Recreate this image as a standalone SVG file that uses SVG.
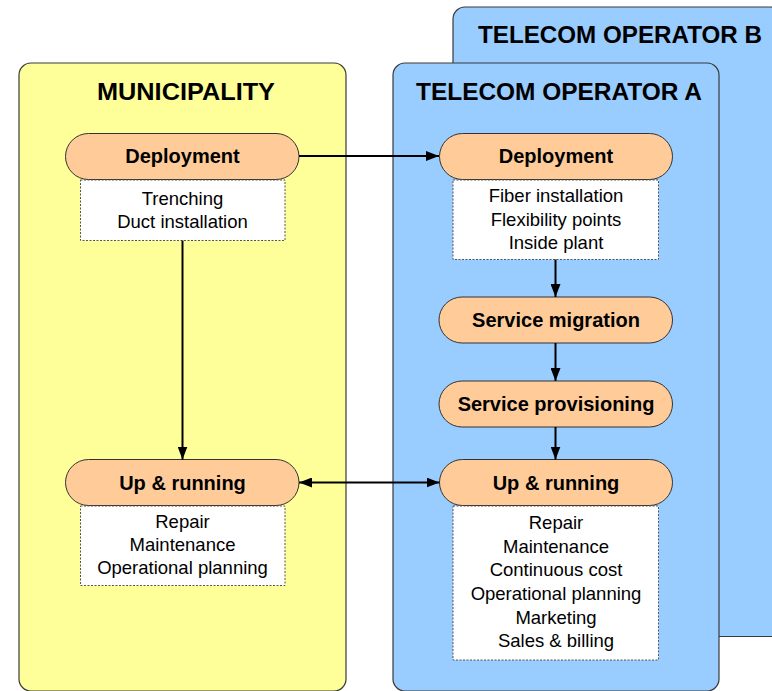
<svg xmlns="http://www.w3.org/2000/svg" width="772" height="691" viewBox="0 0 772 691">
<defs>
<style>
.cont{stroke:#3a3a3a;stroke-width:1.2}
.pill{fill:#FFCC99;stroke:#333;stroke-width:1}
.det{fill:#fff;stroke:#555;stroke-width:1;stroke-dasharray:2 1.5}
.title{font-family:"Liberation Sans",Arial,sans-serif;font-weight:bold;font-size:24px;fill:#000;text-anchor:middle}
.pt{font-family:"Liberation Sans",Arial,sans-serif;font-weight:bold;font-size:20px;fill:#000;text-anchor:middle}
.dt{font-family:"Liberation Sans",Arial,sans-serif;font-size:18.5px;fill:#000;text-anchor:middle}
.conn{stroke:#000;stroke-width:2;fill:none}
</style>
<marker id="ah" viewBox="0 0 13 10" refX="13" refY="5" markerWidth="13" markerHeight="10" markerUnits="userSpaceOnUse" orient="auto-start-reverse">
<path d="M0,0 L13,5 L0,10 Z" fill="#000"/>
</marker>
</defs>
<rect width="772" height="691" fill="#fff"/>

<g id="operator-b">
<rect class="cont" x="453" y="7" width="330" height="629.5" rx="12" fill="#99CCFF"/>
<text class="title" x="620" y="43" textLength="284" lengthAdjust="spacingAndGlyphs">TELECOM OPERATOR B</text>
</g>

<g id="municipality">
<rect class="cont" x="19" y="63" width="327" height="628" rx="12" fill="#FFFF99"/>
<text class="title" x="186" y="100" textLength="178" lengthAdjust="spacingAndGlyphs">MUNICIPALITY</text>
</g>

<g id="operator-a">
<rect class="cont" x="393" y="63" width="326" height="628" rx="12" fill="#99CCFF"/>
<text class="title" x="559" y="100" textLength="286" lengthAdjust="spacingAndGlyphs">TELECOM OPERATOR A</text>
</g>

<g id="m-deployment">
<rect class="pill" x="65.5" y="133.5" width="233.5" height="46" rx="23"/>
<text class="pt" x="182.5" y="163">Deployment</text>
<rect class="det" x="80.5" y="180" width="204.5" height="60.5"/>
<text class="dt" x="182.5" y="205">Trenching</text>
<text class="dt" x="182.5" y="228">Duct installation</text>
</g>

<g id="m-uprunning">
<rect class="pill" x="65.5" y="459.5" width="233.5" height="46" rx="23"/>
<text class="pt" x="182.5" y="489.5">Up &amp; running</text>
<rect class="det" x="80.5" y="506" width="204.5" height="79.5"/>
<text class="dt" x="182.5" y="527.5">Repair</text>
<text class="dt" x="182.5" y="551">Maintenance</text>
<text class="dt" x="182.5" y="574">Operational planning</text>
</g>

<g id="a-deployment">
<rect class="pill" x="439.5" y="133.5" width="233" height="46" rx="23"/>
<text class="pt" x="556" y="163">Deployment</text>
<rect class="det" x="453" y="180" width="205.5" height="79.5"/>
<text class="dt" x="556" y="202">Fiber installation</text>
<text class="dt" x="556" y="225.5">Flexibility points</text>
<text class="dt" x="556" y="248.5">Inside plant</text>
</g>

<g id="a-migration">
<rect class="pill" x="439" y="297" width="233.5" height="46" rx="23"/>
<text class="pt" x="556" y="327">Service migration</text>
</g>

<g id="a-provisioning">
<rect class="pill" x="439" y="381" width="233.5" height="46" rx="23"/>
<text class="pt" x="556" y="411">Service provisioning</text>
</g>

<g id="a-uprunning">
<rect class="pill" x="439.5" y="459.5" width="233" height="46" rx="23"/>
<text class="pt" x="556" y="489.5">Up &amp; running</text>
<rect class="det" x="453" y="506" width="205.5" height="154"/>
<text class="dt" x="556" y="528.5">Repair</text>
<text class="dt" x="556" y="552.5">Maintenance</text>
<text class="dt" x="556" y="576">Continuous cost</text>
<text class="dt" x="556" y="600">Operational planning</text>
<text class="dt" x="556" y="623.5">Marketing</text>
<text class="dt" x="556" y="647">Sales &amp; billing</text>
</g>

<g id="connectors">
<line class="conn" x1="299" y1="156" x2="439" y2="156" marker-end="url(#ah)"/>
<line class="conn" x1="182.5" y1="240.5" x2="182.5" y2="459.5" marker-end="url(#ah)"/>
<line class="conn" x1="299" y1="482.5" x2="439.5" y2="482.5" marker-start="url(#ah)" marker-end="url(#ah)"/>
<line class="conn" x1="555.5" y1="259.5" x2="555.5" y2="297" marker-end="url(#ah)"/>
<line class="conn" x1="555.5" y1="343" x2="555.5" y2="381" marker-end="url(#ah)"/>
<line class="conn" x1="555.5" y1="427" x2="555.5" y2="459.5" marker-end="url(#ah)"/>
</g>
</svg>
